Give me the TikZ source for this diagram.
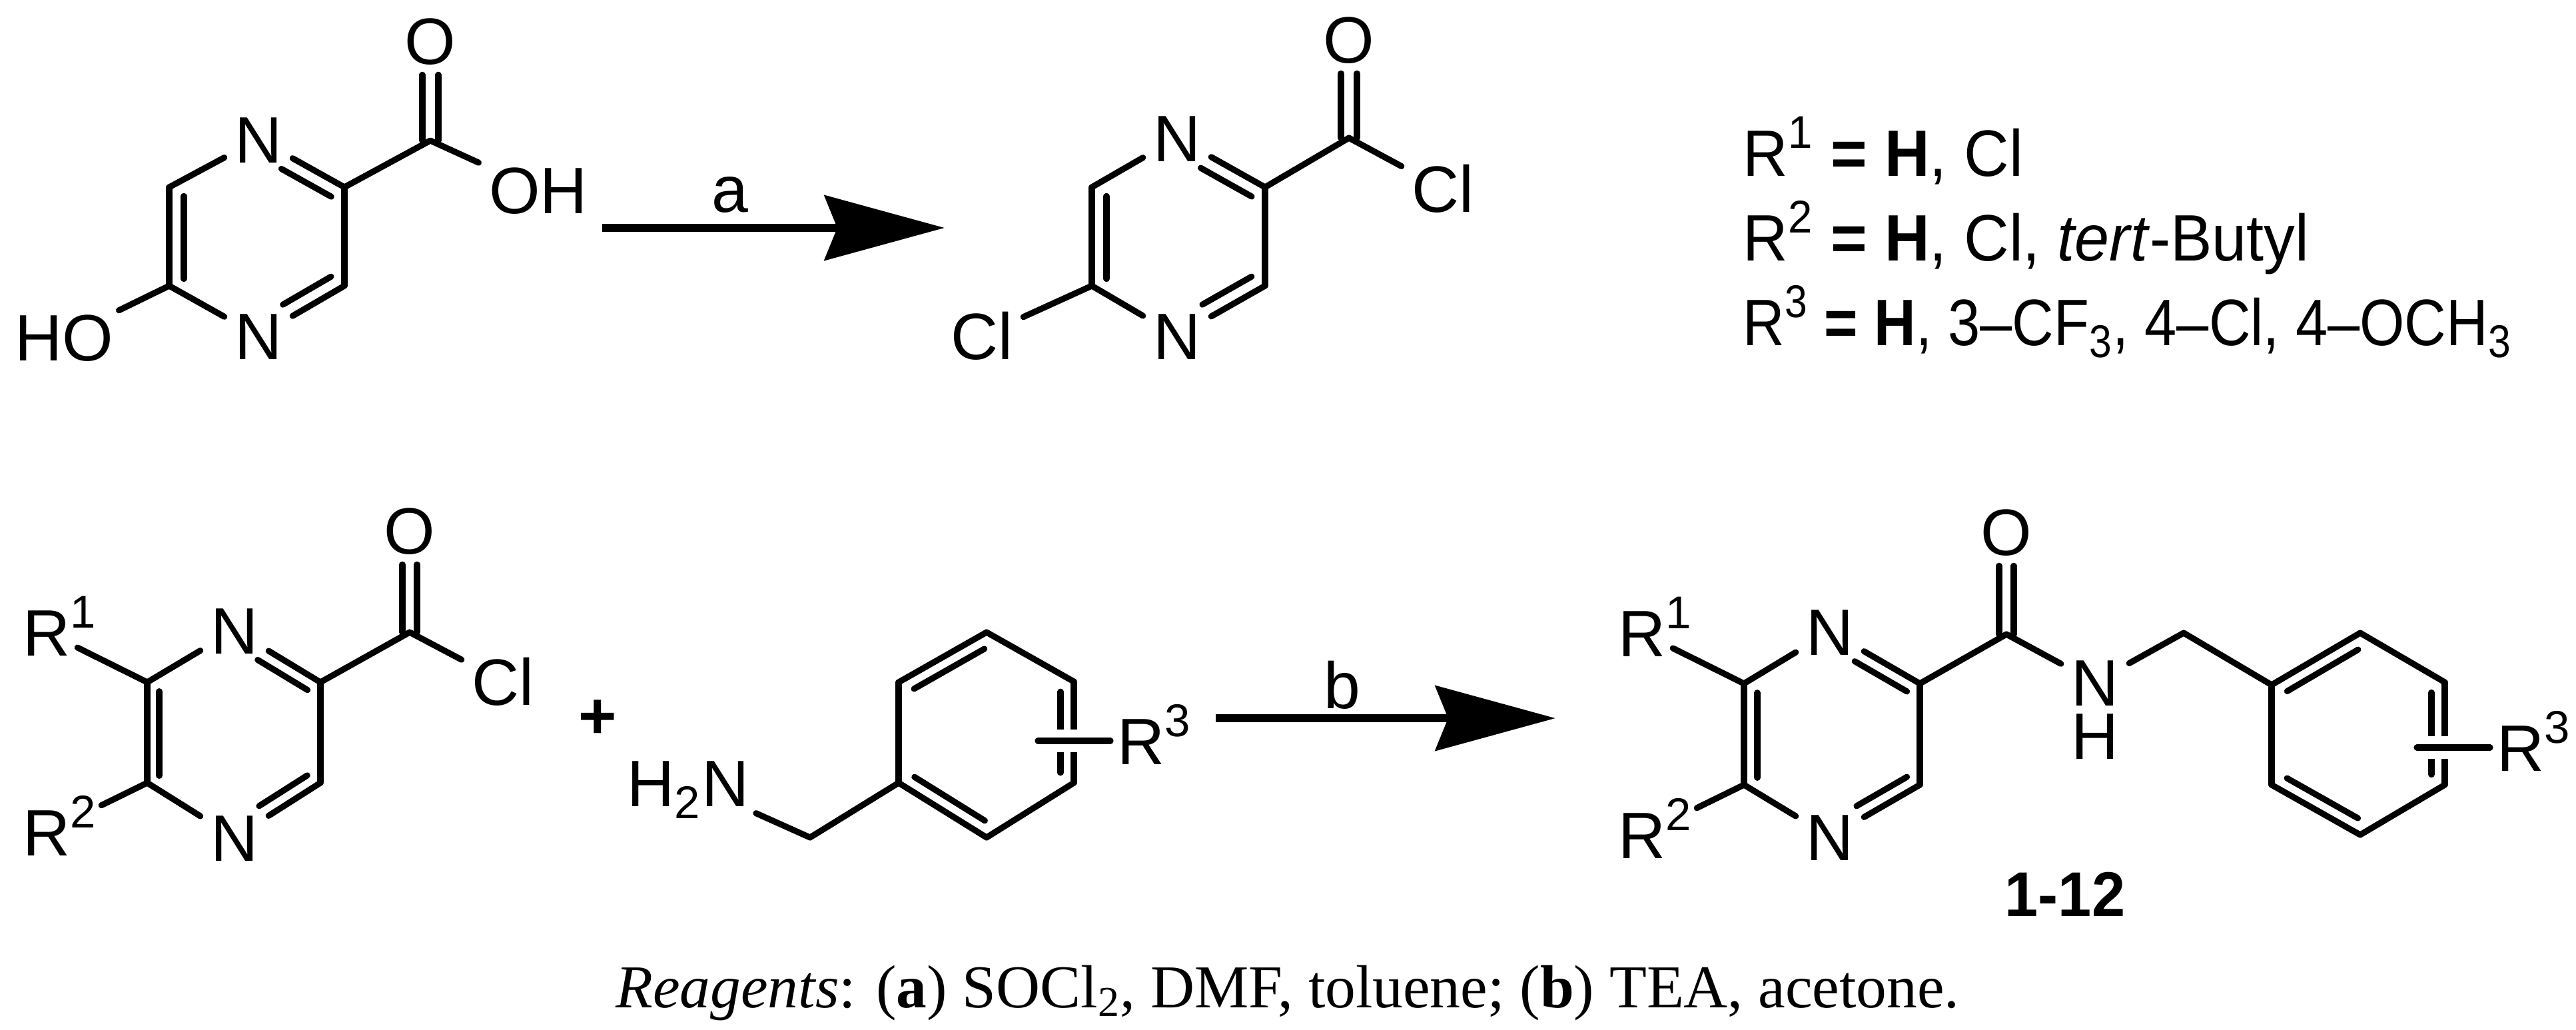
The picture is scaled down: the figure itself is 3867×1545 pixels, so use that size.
\documentclass[tikz,border=0pt]{standalone}
\usepackage{fontspec}
\setmainfont{Liberation Sans}
\newfontfamily\capfont{Liberation Serif}
\newfontfamily\narrowfont[FakeStretch=.95]{Liberation Sans}
\newfontfamily\narrowerfont[FakeStretch=.88]{Liberation Sans}
\usepackage{tikz}
\usetikzlibrary{calc,arrows.meta}

\newcommand{\dbond}[5]{
  \draw[bond] (#1) -- (#2);
  \draw[bond] ($(#1)!#4!(#2)!#3!90:(#2)$) -- ($(#2)!#5!(#1)!#3!-90:(#1)$);
}
\newcommand{\highsup}[1]{\raisebox{.1cm}{\textsuperscript{#1}}}
\newcommand{\upper}[2]{#1\rlap{\highsup{#2}}}

\begin{document}
\begin{tikzpicture}[x=.01cm, y=-.01cm,
    bond/.style={line width=2.6pt, line cap=round, line join=round},
    halo/.style={preaction={draw=white, line width=.34cm, line cap=butt}},
    bigarrow/.style={line width=.12cm, -{Stealth[length=1.8cm, width=.97cm, inset=.19cm]}},
    atom/.style={font=\fontsize{28}{30}\selectfont, inner sep=.15cm, text height=.71cm, text depth=0pt},
    legend/.style={font=\narrowfont\fontsize{28}{30}\selectfont, inner sep=0pt, anchor=base west}]
  \useasboundingbox (0,0) rectangle (3867,1545);

  \coordinate (aTL) at (254,281);
  \coordinate (aBL) at (254,429);
  \coordinate (aTR) at (517,281);
  \coordinate (aBR) at (517,429);
  \coordinate (aC) at (646,211);
  \node[atom] (aNt) at (388,209) {N};
  \node[atom] (aNb) at (388,504) {N};
  \node[atom] (aO) at (646,61) {O};
  \node[atom] (aOH) at (808,285) {OH};
  \node[atom, inner sep=.08cm] (aHO) at (96,506) {HO};
  \dbond{aTL}{aBL}{.22cm}{.09}{.07}
  \dbond{aNb}{aBR}{.22cm}{.37}{.07}
  \dbond{aTR}{aNt}{.22cm}{.07}{.35}
  \draw[bond] (aTL) -- (aNt);
  \draw[bond] (aBL) -- (aNb);
  \draw[bond] (aTR) -- (aBR);
  \draw[bond] (aTR) -- (aC) -- (aOH);
  \draw[bond] (aBL) -- (aHO);
  \draw[bond] ([xshift=-.12cm]aO.south) -- ([xshift=-.12cm]aC);
  \draw[bond] ([xshift=.12cm]aO.south) -- ([xshift=.12cm]aC);

  \coordinate (arrA0) at (904,342);
  \coordinate (arrA1) at (1418,342);
  \draw[bigarrow] (arrA0) -- (arrA1);
  \node[atom] (lblA) at (1096,283) {a};

  \coordinate (cTL) at (1639,281);
  \coordinate (cBL) at (1639,429);
  \coordinate (cTR) at (1899,281);
  \coordinate (cBR) at (1899,429);
  \coordinate (cC) at (2025,207);
  \node[atom] (cNt) at (1767,207) {N};
  \node[atom] (cNb) at (1767,504) {N};
  \node[atom] (cO) at (2025,59) {O};
  \node[atom] (cClr) at (2166,283) {Cl};
  \node[atom] (cCll) at (1474,504) {Cl};
  \dbond{cTL}{cBL}{.22cm}{.09}{.07}
  \dbond{cNb}{cBR}{.22cm}{.37}{.07}
  \dbond{cTR}{cNt}{.22cm}{.07}{.35}
  \draw[bond] (cTL) -- (cNt);
  \draw[bond] (cBL) -- (cNb);
  \draw[bond] (cTR) -- (cBR);
  \draw[bond] (cTR) -- (cC) -- (cClr);
  \draw[bond] (cBL) -- (cCll);
  \draw[bond] ([xshift=-.12cm]cO.south) -- ([xshift=-.12cm]cC);
  \draw[bond] ([xshift=.12cm]cO.south) -- ([xshift=.12cm]cC);

  \node[legend] (leg1) at (2616,264) {R\highsup{1} \textbf{= H}, Cl};
  \node[legend] (leg2) at (2616,391) {R\highsup{2} \textbf{= H}, Cl, \textit{tert}-Butyl};
  \node[legend, font=\narrowerfont\fontsize{28}{30}\selectfont] (leg3) at (2616,518) {R\highsup{3} \textbf{= H}, 3–CF\textsubscript{3}, 4–Cl, 4–OCH\textsubscript{3}};

  \coordinate (rTL) at (221,1024);
  \coordinate (rBL) at (221,1175);
  \coordinate (rTR) at (481,1024);
  \coordinate (rBR) at (481,1175);
  \coordinate (rC) at (615,949);
  \node[atom] (rNt) at (352,946) {N};
  \node[atom] (rNb) at (352,1257) {N};
  \node[atom] (rO) at (615,796) {O};
  \node[atom] (rCl) at (755,1023) {Cl};
  \node[atom, inner sep=.1cm] (rR1) at (70,949) {\upper{R}{1}};
  \node[atom, inner sep=.1cm] (rR2) at (70,1249) {\upper{R}{2}};
  \dbond{rTL}{rBL}{.18cm}{.09}{.07}
  \dbond{rNb}{rBR}{.2cm}{.37}{.07}
  \dbond{rTR}{rNt}{.2cm}{.07}{.35}
  \draw[bond] (rTL) -- (rNt);
  \draw[bond] (rBL) -- (rNb);
  \draw[bond] (rTR) -- (rBR);
  \draw[bond] (rTR) -- (rC) -- (rCl);
  \draw[bond] (rTL) -- (rR1);
  \draw[bond, shorten >=.4cm] (rBL) -- (rR2);
  \draw[bond] ([xshift=-.11cm]rO.south) -- ([xshift=-.11cm]rC);
  \draw[bond] ([xshift=.11cm]rO.south) -- ([xshift=.11cm]rC);

  \node[atom, font=\fontsize{28}{30}\selectfont\bfseries] (plus) at (897,1073) {+};

  \coordinate (mCH) at (1216,1257);
  \coordinate (mT) at (1481,949);
  \coordinate (mUL) at (1349,1024);
  \coordinate (mLL) at (1349,1175);
  \coordinate (mB) at (1481,1257);
  \coordinate (mLR) at (1612,1175);
  \coordinate (mUR) at (1612,1023);
  \coordinate (mS) at (1558,1112);
  \node[atom, inner sep=.1cm] (mNH) at (1033,1175) {H\textsubscript{2}N};
  \node[atom, inner sep=.1cm, anchor=west] (mR3) at (1667,1112) {\upper{R}{3}};
  \dbond{mT}{mUL}{.2cm}{.1}{.1}
  \dbond{mLL}{mB}{.2cm}{.1}{.1}
  \dbond{mLR}{mUR}{.2cm}{.1}{.1}
  \draw[bond] (mUL) -- (mLL);
  \draw[bond] (mB) -- (mLR);
  \draw[bond] (mUR) -- (mT);
  \draw[bond] (mNH) -- (mCH) -- (mLL);
  \draw[bond, halo] (mS) -- (mR3.west);

  \coordinate (arrB0) at (1825,1078);
  \coordinate (arrB1) at (2335,1078);
  \draw[bigarrow] (arrB0) -- (arrB1);
  \node[atom] (lblB) at (2015,1028) {b};

  \coordinate (pTL) at (2618,1026);
  \coordinate (pBL) at (2618,1178);
  \coordinate (pTR) at (2882,1026);
  \coordinate (pBR) at (2882,1178);
  \coordinate (pC) at (3012,952);
  \coordinate (pCH) at (3278,950);
  \coordinate (pT) at (3543,950);
  \coordinate (pUL) at (3410,1028);
  \coordinate (pLL) at (3410,1178);
  \coordinate (pB) at (3543,1253);
  \coordinate (pLR) at (3670,1178);
  \coordinate (pUR) at (3670,1024);
  \coordinate (pS) at (3628,1122);
  \node[atom] (pNt) at (2747,948) {N};
  \node[atom] (pNb) at (2747,1256) {N};
  \node[atom] (pO) at (3012,798) {O};
  \node[atom] (pN) at (3145,1024) {N};
  \node[atom, inner sep=0pt] (pH) at (3145,1104) {H};
  \node[atom, inner sep=.1cm] (pR1) at (2465,950) {\upper{R}{1}};
  \node[atom, inner sep=.1cm] (pR2) at (2465,1253) {\upper{R}{2}};
  \node[atom, inner sep=.1cm, anchor=west] (pR3) at (3738,1122) {\upper{R}{3}};
  \node[atom, font=\narrowfont\fontsize{27}{30}\selectfont\bfseries] (pNum) at (3100,1340) {1-12};
  \dbond{pTL}{pBL}{.2cm}{.09}{.07}
  \dbond{pNb}{pBR}{.2cm}{.37}{.07}
  \dbond{pTR}{pNt}{.2cm}{.07}{.35}
  \draw[bond] (pTL) -- (pNt);
  \draw[bond] (pBL) -- (pNb);
  \draw[bond] (pTR) -- (pBR);
  \draw[bond] (pTR) -- (pC) -- (pN);
  \draw[bond] (pTL) -- (pR1);
  \draw[bond, shorten >=.4cm] (pBL) -- (pR2);
  \draw[bond] ([xshift=-.11cm]pO.south) -- ([xshift=-.11cm]pC);
  \draw[bond] ([xshift=.11cm]pO.south) -- ([xshift=.11cm]pC);
  \draw[bond] (pN) -- (pCH) -- (pUL);
  \dbond{pT}{pUL}{.2cm}{.1}{.1}
  \dbond{pLL}{pB}{.2cm}{.1}{.1}
  \dbond{pLR}{pUR}{.2cm}{.1}{.1}
  \draw[bond] (pUL) -- (pLL);
  \draw[bond] (pB) -- (pLR);
  \draw[bond] (pUR) -- (pT);
  \draw[bond, halo] (pS) -- (pR3.west);

  \node[inner sep=0pt, anchor=base, font=\capfont\fontsize{26}{28}\selectfont] (caption) at (1933,1512) {\textit{Reagents}: (\textbf{a}) SOCl\textsubscript{2}, DMF, toluene; (\textbf{b}) TEA, acetone.};
\end{tikzpicture}
\end{document}
